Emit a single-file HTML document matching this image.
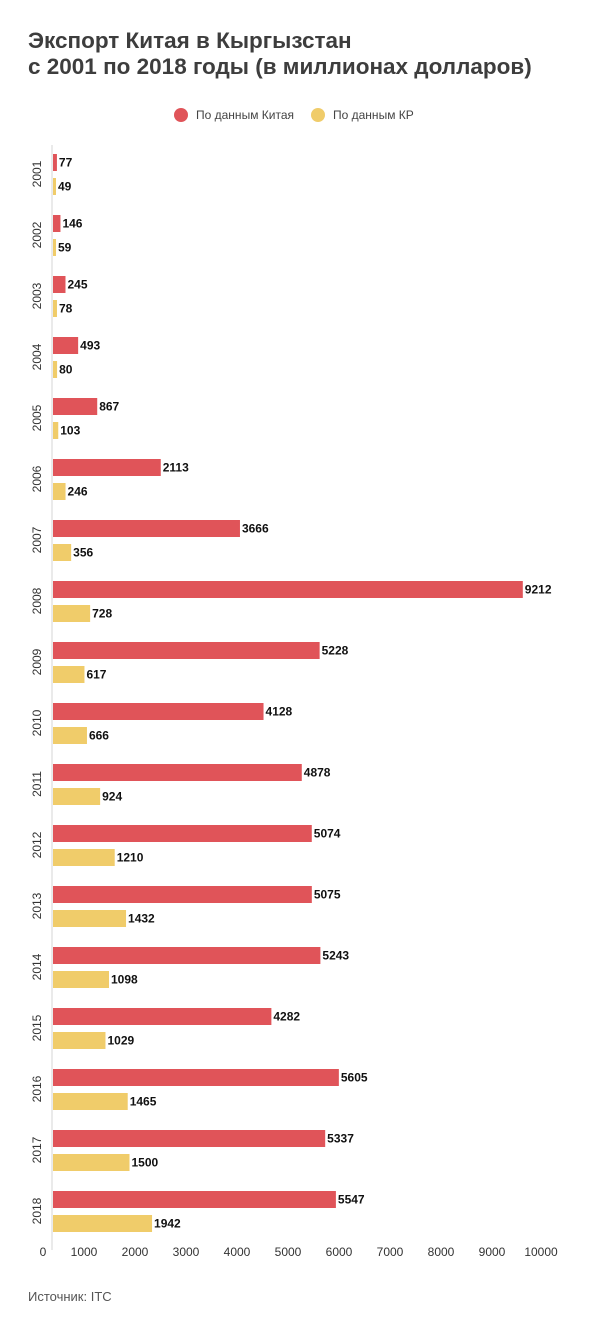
<!DOCTYPE html><html><head><meta charset="utf-8"><style>
body{margin:0;background:#fff;width:600px;height:1335px;position:relative;font-family:"Liberation Sans",sans-serif;overflow:hidden}
.t{position:absolute;left:28px;top:28px;font-size:22.5px;font-weight:bold;color:#3d3d3d;line-height:26px}
</style></head><body>
<div class="t">Экспорт Китая в Кыргызстан<br>с 2001 по 2018 годы (в миллионах долларов)</div>
<svg width="600" height="1335" style="position:absolute;left:0;top:0" font-family="Liberation Sans, sans-serif">
<circle cx="181" cy="115" r="7" fill="#e05459"/><text x="196" y="119" font-size="12" fill="#444">По данным Китая</text>
<circle cx="318" cy="115" r="7" fill="#f0cc6a"/><text x="333" y="119" font-size="12" fill="#444">По данным КР</text>
<line x1="52" y1="145" x2="52" y2="1250" stroke="#e3e3e3" stroke-width="1.5"/>
<g id="bars"></g>
<g font-size="12" fill="#333" text-anchor="middle">
<text x="43" y="1256">0</text><text x="84" y="1256">1000</text><text x="135" y="1256">2000</text><text x="186" y="1256">3000</text><text x="237" y="1256">4000</text><text x="288" y="1256">5000</text><text x="339" y="1256">6000</text><text x="390" y="1256">7000</text><text x="441" y="1256">8000</text><text x="492" y="1256">9000</text><text x="541" y="1256">10000</text>
</g>
<text x="28" y="1301" font-size="13" fill="#555">Источник:  ITC</text>
</svg>
<script>
var d=[[2001,77,49],[2002,146,59],[2003,245,78],[2004,493,80],[2005,867,103],[2006,2113,246],[2007,3666,356],[2008,9212,728],[2009,5228,617],[2010,4128,666],[2011,4878,924],[2012,5074,1210],[2013,5075,1432],[2014,5243,1098],[2015,4282,1029],[2016,5605,1465],[2017,5337,1500],[2018,5547,1942]];
var s='',k=0.051;
d.forEach(function(r,i){var y=162+i*61;
var w1=Math.max(r[1]*k,3),w2=Math.max(r[2]*k,3);
s+='<rect x="53" y="'+(y-8)+'" width="'+w1+'" height="17" fill="#e05459"/>';
s+='<rect x="53" y="'+(y+16)+'" width="'+w2+'" height="17" fill="#f0cc6a"/>';
s+='<text x="'+(55+w1)+'" y="'+(y+4.5)+'" font-size="12" font-weight="bold" fill="#111">'+r[1]+'</text>';
s+='<text x="'+(55+w2)+'" y="'+(y+28.5)+'" font-size="12" font-weight="bold" fill="#111">'+r[2]+'</text>';
s+='<text transform="translate(41,'+(y+12)+') rotate(-90)" text-anchor="middle" font-size="12" fill="#333">'+r[0]+'</text>';
});
document.getElementById('bars').innerHTML=s;
</script>
</body></html>
